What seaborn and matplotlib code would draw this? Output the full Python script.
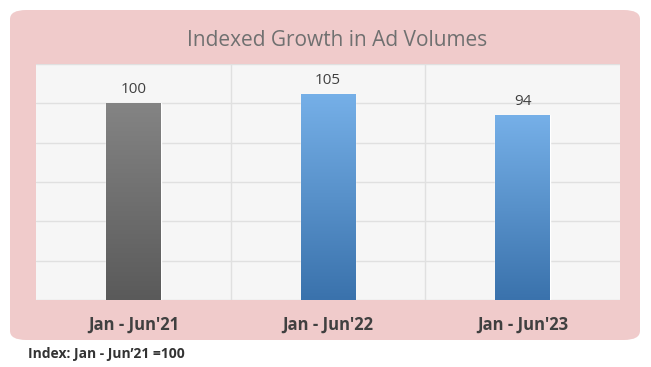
import numpy as np
import pandas as pd
import matplotlib
matplotlib.use("Agg")
import matplotlib.pyplot as plt
import seaborn as sns
from matplotlib.patches import FancyBboxPatch
from matplotlib.colors import LinearSegmentedColormap

categories = ["Jan - Jun'21", "Jan - Jun'22", "Jan - Jun'23"]
values = [100, 105, 94]
title = "Indexed Growth in Ad Volumes"
footnote = "Index: Jan - Jun\u201921 =100"

sns.set_theme(style="white")
plt.rcParams['font.family'] = ['Open Sans', 'DejaVu Sans']

W, H = 651, 367
fig = plt.figure(figsize=(W / 100, H / 100), dpi=100)
fig.patch.set_facecolor("white")

# pink rounded panel
panel = FancyBboxPatch((10 / W, (H - 340) / H), 630 / W, 330 / H,
                       boxstyle="round,pad=0,rounding_size=0.025",
                       transform=fig.transFigure, facecolor="#f0cbcb",
                       edgecolor="none", zorder=-5)
fig.patches.append(panel)

ax = fig.add_axes([36 / W, (H - 300) / H, 584 / W, 236 / H])
ax.set_zorder(2)
ax.set_facecolor("#f6f6f6")

df = pd.DataFrame({"period": categories, "value": values})
sns.barplot(data=df, x="period", y="value", ax=ax, width=0.28,
            color="#6a9fd6", saturation=1, zorder=3)

ax.set_ylim(0, 120)
ax.set_xlim(-0.5, 2.5)
ax.set_yticks(np.arange(0, 121, 20))
ax.yaxis.set_ticklabels([])
ax.tick_params(axis="y", length=0)
ax.set_xticks([0.5, 1.5], minor=True)
ax.grid(axis="y", color="#e0e0e0", linewidth=1, zorder=0)
ax.grid(axis="x", which="minor", color="#e0e0e0", linewidth=1, zorder=0)
ax.grid(axis="x", which="major", visible=False)
ax.set_axisbelow(True)
for s in ax.spines.values():
    s.set_visible(False)

# gradients on bars
gray_cmap = LinearSegmentedColormap.from_list("g", ["#5a5a5a", "#848484"])
blue_cmap = LinearSegmentedColormap.from_list("b", ["#3a72ac", "#76b0e8"])
grad = np.linspace(0, 1, 256).reshape(-1, 1)
for i, patch in enumerate(list(ax.patches)):
    x0, y0 = patch.get_x(), patch.get_y()
    w, h = patch.get_width(), patch.get_height()
    cmap = gray_cmap if i == 0 else blue_cmap
    im = ax.imshow(grad, cmap=cmap, origin="lower", aspect="auto",
                   extent=[x0, x0 + w, y0, y0 + h], zorder=4)
    im.set_clip_path(patch)
    ax.text(x0 + w / 2, y0 + h + 3, f"{values[i]}", ha="center", va="bottom",
            fontsize=11, color="#404040", zorder=5)

ax.set_xlim(-0.5, 2.5)
ax.set_ylim(0, 120)
ax.set_xlabel("")
ax.set_ylabel("")
ax.tick_params(axis="x", length=0, pad=11)
for lbl in ax.get_xticklabels():
    lbl.set_fontweight("bold")
    lbl.set_fontsize(12)
    lbl.set_color("#404040")

fig.text(337 / W, (H - 40) / H, title, ha="center", va="center",
         fontsize=15, color="#707070")
fig.text(28 / W, (H - 354) / H, footnote, ha="left", va="center",
         fontsize=10, fontweight="bold", color="#333333")

fig.savefig("out.png", dpi=100)
